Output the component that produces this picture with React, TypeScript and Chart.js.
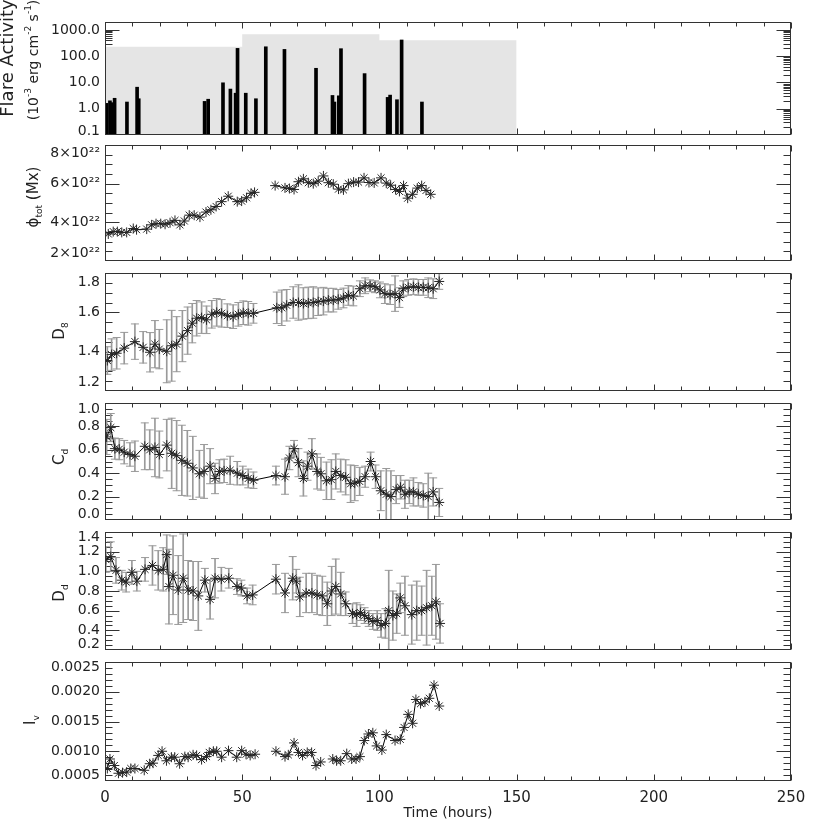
import React, { useEffect, useRef } from "react";
import { Chart, registerables } from "chart.js";

Chart.register(...registerables);

const FONT = '"DejaVu Sans", "Liberation Sans", sans-serif';
const TEXT = "#222";
const FRAME = "#333";
const ERR = "#9a9a9a";

// ---------------- x axis ----------------
const timeTicks = [0, 50, 100, 150, 200, 250];
const timeTickLabels = ["0", "50", "100", "150", "200", "250"];

// ---------------- panel 1: flare activity ----------------
const flareTime = [0.5, 1.8, 2.6, 3.5, 8.0, 11.7, 12.3, 36.3, 37.6, 43.0, 45.7, 47.6, 48.3, 51.3, 55.0, 58.6, 65.4, 76.9, 82.9, 83.6, 85.2, 86.0, 94.6, 103.0, 103.9, 106.4, 108.1, 115.5];
const flareFlux = [1.6, 2.0, 1.7, 2.5, 1.8, 6.6, 2.4, 1.9, 2.3, 9.7, 5.6, 3.9, 198, 3.9, 2.4, 228, 181, 34.6, 3.2, 1.8, 3.1, 193, 21.7, 2.7, 3.3, 2.2, 414, 1.8];
const windowTime = [0, 50, 100, 150];
const windowFlux = [230, 680, 400, 400];
const fluxTicks = [0.1, 1, 10, 100, 1000];
const fluxTickLabels = ["0.1", "1.0", "10.0", "100.0", "1000.0"];

// ---------------- panel 2: total flux (units of 1e22 Mx) ----------------
const phiTime = [1.2, 3.0, 4.5, 6.1, 7.9, 10.3, 11.5, 15.2, 17.0, 18.6, 20.3, 21.9, 23.7, 25.5, 27.3, 28.9, 30.7, 32.5, 34.6, 36.8, 38.6, 40.5, 42.5, 44.9, 48.2, 49.8, 51.6, 53.2, 54.5, 58.0, 62.0, 65.6, 67.2, 68.9, 70.5, 72.3, 74.1, 75.9, 77.7, 79.6, 81.4, 83.2, 85.1, 86.9, 88.7, 90.6, 92.4, 94.4, 96.2, 98.1, 100.6, 102.5, 104.1, 105.9, 107.3, 108.8, 110.3, 112.1, 113.8, 115.4, 117.0, 118.7];
const phiTotal = [3.40, 3.52, 3.52, 3.48, 3.48, 3.68, 3.62, 3.65, 3.87, 3.93, 3.93, 3.90, 3.98, 4.10, 3.87, 4.07, 4.37, 4.37, 4.27, 4.53, 4.65, 4.82, 5.07, 5.35, 5.07, 5.10, 5.27, 5.50, 5.55, null, 5.90, 5.78, 5.75, 5.70, 6.10, 6.25, 6.05, 6.00, 6.13, 6.40, 6.05, 5.97, 5.72, 5.68, 6.00, 6.08, 6.08, 6.30, 6.06, 6.04, 6.30, 6.03, 5.92, 5.70, 5.60, 5.90, 5.25, 5.45, 5.77, 5.90, 5.65, 5.45];
const phiTicks = [2, 4, 6, 8];
const phiTickLabels = ["2×10²²", "4×10²²", "6×10²²", "8×10²²"];

// ---------------- panel 3: D8 ----------------
const d8Time = [0.85, 2.4, 4.25, 7.0, 10.9, 13.9, 16.4, 18.2, 19.8, 22.5, 24.3, 26.1, 28.2, 30.1, 31.8, 33.4, 35.2, 37.0, 38.9, 40.7, 42.5, 44.6, 46.7, 48.6, 50.4, 52.2, 54.1, 62.6, 64.4, 66.2, 68.6, 70.5, 72.3, 74.1, 75.9, 77.7, 79.6, 81.4, 83.2, 85.0, 86.9, 88.7, 90.5, 92.9, 94.8, 96.6, 98.4, 100.2, 102.0, 103.9, 105.7, 107.3, 108.7, 110.5, 112.4, 114.2, 116.0, 117.8, 119.6, 121.8];
const d8Value = [1.355, 1.385, 1.392, 1.418, 1.451, 1.422, 1.397, 1.438, 1.413, 1.402, 1.430, 1.438, 1.479, 1.507, 1.545, 1.570, 1.573, 1.562, 1.590, 1.600, 1.595, 1.583, 1.578, 1.590, 1.598, 1.595, 1.595, 1.623, 1.623, 1.636, 1.650, 1.650, 1.645, 1.648, 1.650, 1.654, 1.657, 1.662, 1.662, 1.666, 1.673, 1.686, 1.683, 1.72, 1.735, 1.735, 1.73, 1.714, 1.695, 1.69, 1.695, 1.675, 1.72, 1.727, 1.73, 1.727, 1.727, 1.725, 1.72, 1.757];
const d8Error = [0.07, 0.08, 0.08, 0.08, 0.09, 0.08, 0.10, 0.12, 0.10, 0.16, 0.18, 0.14, 0.13, 0.12, 0.10, 0.09, 0.08, 0.07, 0.07, 0.07, 0.07, 0.06, 0.06, 0.06, 0.06, 0.06, 0.05, 0.08, 0.09, 0.08, 0.08, 0.09, 0.08, 0.08, 0.08, 0.07, 0.07, 0.06, 0.06, 0.05, 0.05, 0.05, 0.05, 0.04, 0.04, 0.03, 0.03, 0.04, 0.05, 0.05, 0.09, 0.05, 0.04, 0.04, 0.04, 0.04, 0.04, 0.05, 0.05, 0.04];
const d8Ticks = [1.2, 1.4, 1.6, 1.8];
const d8TickLabels = ["1.2", "1.4", "1.6", "1.8"];

// ---------------- panel 4: Cd ----------------
const cdTime = [0.6, 2.1, 3.6, 5.2, 7.0, 9.1, 10.9, 14.5, 16.3, 18.2, 19.8, 22.5, 24.3, 26.1, 28.0, 30.0, 32.0, 34.4, 36.1, 38.3, 40.1, 41.7, 43.4, 45.6, 48.2, 50.2, 52.2, 54.1, 62.3, 65.6, 67.2, 68.9, 70.5, 72.3, 73.8, 75.4, 77.3, 78.7, 80.7, 82.5, 84.1, 85.9, 87.7, 89.5, 91.0, 92.8, 94.8, 96.8, 98.6, 100.5, 102.5, 104.2, 106.1, 107.7, 109.3, 110.9, 112.4, 114.2, 116.0, 117.8, 119.6, 121.8];
const cdValue = [0.71, 0.79, 0.61, 0.605, 0.58, 0.56, 0.545, 0.63, 0.60, 0.62, 0.56, 0.64, 0.57, 0.55, 0.51, 0.485, 0.445, 0.395, 0.415, 0.46, 0.355, 0.415, 0.42, 0.425, 0.40, 0.38, 0.355, 0.34, 0.38, 0.37, 0.53, 0.61, 0.49, 0.355, 0.46, 0.565, 0.415, 0.395, 0.335, 0.345, 0.415, 0.38, 0.365, 0.31, 0.315, 0.33, 0.37, 0.50, 0.37, 0.25, 0.22, 0.20, 0.26, 0.28, 0.22, 0.24, 0.24, 0.22, 0.21, 0.20, 0.24, 0.15];
const cdError = [0.15, 0.12, 0.09, 0.09, 0.10, 0.10, 0.13, 0.20, 0.17, 0.25, 0.20, 0.22, 0.30, 0.30, 0.30, 0.28, 0.27, 0.20, 0.23, 0.15, 0.13, 0.10, 0.10, 0.12, 0.10, 0.08, 0.08, 0.07, 0.08, 0.15, 0.10, 0.07, 0.12, 0.15, 0.12, 0.13, 0.15, 0.14, 0.16, 0.17, 0.15, 0.14, 0.15, 0.16, 0.15, 0.12, 0.09, 0.08, 0.10, 0.17, 0.22, 0.22, 0.12, 0.10, 0.12, 0.10, 0.12, 0.10, 0.10, 0.20, 0.12, 0.12];
const cdTicks = [0, 0.2, 0.4, 0.6, 0.8, 1.0];
const cdTickLabels = ["0.0", "0.2", "0.4", "0.6", "0.8", "1.0"];

// ---------------- panel 5: Dd ----------------
const ddTime = [0.3, 2.1, 4.0, 6.1, 7.7, 9.8, 11.6, 14.6, 17.3, 19.4, 21.2, 22.5, 23.3, 24.8, 26.7, 28.5, 30.3, 32.1, 34.0, 36.4, 38.3, 40.1, 42.4, 45.1, 48.1, 49.7, 51.8, 53.8, 62.3, 65.6, 68.4, 69.7, 71.0, 73.3, 75.4, 77.3, 79.2, 81.0, 82.6, 84.1, 85.9, 87.7, 90.2, 91.7, 93.1, 94.6, 96.1, 97.6, 99.2, 100.6, 102.2, 103.4, 104.9, 106.3, 107.6, 109.3, 111.8, 113.6, 115.4, 117.2, 119.1, 120.6, 122.1];
const ddValue = [1.12, 1.15, 1.01, 0.91, 0.89, 0.99, 0.90, 1.02, 1.06, 1.01, 1.02, 1.17, 0.845, 0.96, 0.81, 0.93, 0.81, 0.80, 0.75, 0.91, 0.715, 0.93, 0.92, 0.93, 0.845, 0.83, 0.75, 0.76, 0.92, 0.78, 0.93, 0.90, 0.74, 0.78, 0.78, 0.76, 0.75, 0.67, 0.80, 0.845, 0.77, 0.67, 0.57, 0.56, 0.58, 0.55, 0.52, 0.49, 0.50, 0.45, 0.47, 0.60, 0.55, 0.57, 0.73, 0.65, 0.56, 0.60, 0.60, 0.63, 0.65, 0.69, 0.47];
const ddError = [0.13, 0.15, 0.13, 0.10, 0.10, 0.12, 0.10, 0.12, 0.20, 0.20, 0.22, 0.20, 0.38, 0.40, 0.35, 0.45, 0.30, 0.30, 0.35, 0.12, 0.20, 0.20, 0.12, 0.10, 0.08, 0.08, 0.08, 0.10, 0.15, 0.20, 0.22, 0.12, 0.20, 0.20, 0.20, 0.20, 0.20, 0.22, 0.25, 0.28, 0.22, 0.12, 0.10, 0.12, 0.08, 0.08, 0.08, 0.08, 0.10, 0.12, 0.15, 0.41, 0.25, 0.20, 0.15, 0.30, 0.30, 0.30, 0.25, 0.38, 0.30, 0.38, 0.20];
const ddTicks = [0.2, 0.4, 0.6, 0.8, 1.0, 1.2, 1.4];
const ddTickLabels = ["0.2", "0.4", "0.6", "0.8", "1.0", "1.2", "1.4"];

// ---------------- panel 6: Iv ----------------
const ivTime = [0.85, 1.8, 3.4, 4.9, 6.4, 7.9, 9.4, 10.9, 14.3, 16.3, 17.5, 19.4, 20.8, 22.4, 24.2, 25.4, 27.2, 29.1, 30.3, 32.1, 33.4, 35.2, 37.0, 38.0, 39.5, 40.7, 42.5, 45.0, 48.0, 49.8, 51.4, 52.9, 54.7, 58.0, 62.3, 65.6, 66.8, 68.9, 70.5, 72.0, 73.7, 75.3, 76.9, 78.6, 81.0, 83.0, 84.4, 85.9, 88.1, 89.9, 91.5, 92.9, 94.5, 96.0, 97.6, 99.0, 100.9, 102.5, 105.7, 107.6, 109.0, 110.5, 112.1, 113.3, 115.0, 116.6, 118.2, 119.9, 121.8];
const ivValue = [0.00071, 0.00087, 0.00076, 0.00063, 0.00064, 0.00065, 0.00071, 0.00071, 0.00068, 0.00079, 0.00080, 0.00093, 0.00100, 0.00084, 0.00090, 0.00090, 0.00079, 0.00091, 0.00090, 0.00094, 0.00093, 0.00086, 0.00091, 0.00098, 0.00100, 0.00100, 0.00090, 0.00101, 0.00090, 0.00101, 0.00095, 0.00093, 0.00095, null, 0.00100, 0.00091, 0.00094, 0.00114, 0.00098, 0.00093, 0.00098, 0.00098, 0.00076, 0.00082, null, 0.00087, 0.00084, 0.00084, 0.00096, 0.00087, 0.00087, 0.00091, 0.00118, 0.00129, 0.00131, 0.00109, 0.00102, 0.00128, 0.00118, 0.00120, 0.00140, 0.00162, 0.00147, 0.00187, 0.00180, 0.00183, 0.00189, 0.00211, 0.00176];
const ivTicks = [0.0005, 0.001, 0.0015, 0.002, 0.0025];
const ivTickLabels = ["0.0005", "0.0010", "0.0015", "0.0020", "0.0025"];

// ---------------- helpers ----------------
function steps(min: number, max: number, step: number, skip: number[] = []) {
  const out: number[] = [];
  const n = Math.round((max - min) / step);
  for (let i = 0; i <= n; i++) {
    const v = +(min + i * step).toFixed(8);
    if (!skip.some((s) => Math.abs(s - v) < step / 100)) out.push(v);
  }
  return out;
}
function logMinor(maxV: number) {
  const out: number[] = [];
  [0.1, 1, 10, 100, 1000].forEach((d) => {
    for (let k = 2; k <= 9; k++) if (d * k <= maxV) out.push(d * k);
  });
  return out;
}
const xMinor = steps(0, 250, 10, timeTicks);

function pts(t: number[], v: (number | null)[]) {
  return t.map((x, i) => ({ x, y: v[i] }));
}
function seriesDataset(t: number[], v: (number | null)[]) {
  return {
    type: "line",
    data: pts(t, v),
    borderColor: "#000",
    borderWidth: 1,
    pointStyle: "star",
    pointRadius: 5,
    pointBorderColor: "#262626",
    pointBackgroundColor: "#262626",
    pointBorderWidth: 1,
    spanGaps: false,
    tension: 0,
    order: 1,
  };
}
function errorDatasets(t: number[], v: number[], e: number[]) {
  return [
    {
      type: "bar",
      data: t.map((x, i) => ({ x, y: [v[i] - e[i], v[i] + e[i]] })),
      backgroundColor: ERR,
      borderWidth: 0,
      barThickness: 1,
      grouped: false,
      order: 6,
    },
    {
      type: "line",
      showLine: false,
      data: [
        ...t.map((x, i) => ({ x, y: v[i] + e[i] })),
        ...t.map((x, i) => ({ x, y: v[i] - e[i] })),
      ],
      pointStyle: "line",
      pointRadius: 4,
      pointBorderColor: ERR,
      pointBorderWidth: 1,
      order: 5,
    },
  ];
}

type Part = { text: string; sub?: boolean; sup?: boolean };
type TitleSpec = { x: number; y: number; size: number; parts: Part[] };

type PanelSpec = {
  cTop: number;
  cBottom: number;
  aTop: number;
  aBottom: number;
  yType: "linear" | "logarithmic";
  yMin: number;
  yMax: number;
  yTicks: number[];
  yTickLabels: string[];
  yMinor: number[];
  shiftLH: number;
  datasets: any[];
  titles: TitleSpec[];
  showX: boolean;
};

function edges(a: any) {
  return {
    L: Math.round(a.left) + 0.5,
    R: Math.round(a.right) - 0.5,
    T: Math.round(a.top) + 0.5,
    B: Math.round(a.bottom) - 0.5,
  };
}

function makeFramePlugin(spec: PanelSpec) {
  return {
    id: "idlFrame",
    // inward tick marks are drawn beneath the data (IDL draws fills over them)
    beforeDatasetsDraw(chart: any) {
      const { ctx, chartArea: a, scales } = chart;
      const xs = scales.x;
      const ys = scales.y;
      const { L, R, T, B } = edges(a);
      ctx.save();
      ctx.strokeStyle = FRAME;
      ctx.lineWidth = 1;
      ctx.beginPath();
      const yTick = (vals: number[], len: number) =>
        vals.forEach((v) => {
          const p = Math.round(ys.getPixelForValue(v)) + 0.5;
          if (p < T - 0.1 || p > B + 0.1) return;
          ctx.moveTo(L, p);
          ctx.lineTo(L + len, p);
          ctx.moveTo(R, p);
          ctx.lineTo(R - len, p);
        });
      yTick(spec.yTicks, 14);
      yTick(spec.yMinor, 7);
      const xTick = (vals: number[], len: number) =>
        vals.forEach((v) => {
          const p = Math.round(xs.getPixelForValue(v)) + 0.5;
          ctx.moveTo(p, T);
          ctx.lineTo(p, T + len);
          ctx.moveTo(p, B);
          ctx.lineTo(p, B - len);
        });
      xTick(timeTicks, 6);
      xTick(xMinor, 4);
      ctx.stroke();
      ctx.restore();
    },
    afterDatasetsDraw(chart: any) {
      const { ctx, chartArea: a } = chart;
      const { L, R, T, B } = edges(a);
      ctx.save();
      ctx.strokeStyle = FRAME;
      ctx.lineWidth = 1;
      ctx.strokeRect(L, T, R - L, B - T);
      ctx.restore();
    },
  };
}

function makeTitlePlugin(spec: PanelSpec) {
  return {
    id: "vTitles",
    afterDraw(chart: any) {
      const ctx = chart.ctx;
      spec.titles.forEach((t) => {
        ctx.save();
        ctx.translate(t.x, t.y - spec.cTop);
        ctx.rotate(-Math.PI / 2);
        ctx.fillStyle = TEXT;
        ctx.textBaseline = "middle";
        ctx.textAlign = "left";
        const fontFor = (p: Part) =>
          `${p.sub || p.sup ? Math.round(t.size * 0.62) : t.size}px ${FONT}`;
        let total = 0;
        t.parts.forEach((p) => {
          ctx.font = fontFor(p);
          total += ctx.measureText(p.text).width;
        });
        let cx = -total / 2;
        t.parts.forEach((p) => {
          ctx.font = fontFor(p);
          const dy = p.sub ? t.size * 0.35 : p.sup ? -t.size * 0.4 : 0;
          ctx.fillText(p.text, cx, dy);
          cx += ctx.measureText(p.text).width;
        });
        ctx.restore();
      });
    },
  };
}

function buildConfig(spec: PanelSpec): any {
  return {
    type: "scatter",
    data: { datasets: spec.datasets },
    options: {
      animation: false,
      responsive: false,
      events: [],
      layout: {
        padding: {
          left: 5,
          right: 26,
          top: spec.aTop - spec.cTop,
          bottom: spec.showX ? 0 : spec.cBottom - spec.aBottom,
        },
      },
      plugins: { legend: { display: false }, tooltip: { enabled: false } },
      scales: {
        x: {
          type: "linear",
          min: 0,
          max: 250,
          offset: false,
          display: spec.showX,
          afterBuildTicks: (s: any) => {
            s.ticks = timeTicks.map((v) => ({ value: v }));
          },
          afterFit: (s: any) => {
            if (spec.showX) s.height = spec.cBottom - spec.aBottom;
            s.paddingLeft = 0;
            s.paddingRight = 0;
          },
          grid: { display: false, drawTicks: false, offset: false },
          border: { display: false },
          ticks: {
            color: TEXT,
            font: { family: FONT, size: 15 },
            padding: 8,
            maxRotation: 0,
            autoSkip: false,
            callback: (_v: any, i: number) => timeTickLabels[i],
          },
          title: {
            display: true,
            text: "Time (hours)",
            color: TEXT,
            font: { family: FONT, size: 14 },
            padding: { top: 0, bottom: 3 },
          },
        },
        y: {
          type: spec.yType,
          min: spec.yMin,
          max: spec.yMax,
          offset: false,
          afterBuildTicks: (s: any) => {
            s.ticks = spec.yTicks.map((v) => ({ value: v }));
          },
          afterFit: (s: any) => {
            s.width = 100;
            s.paddingTop = 0;
            s.paddingBottom = 0;
          },
          grid: { display: false, drawTicks: false },
          border: { display: false },
          ticks: {
            color: TEXT,
            font: { family: FONT, size: 14, lineHeight: spec.shiftLH / 14 },
            padding: 5,
            autoSkip: false,
            callback: (v: number, i: number) => {
              const lab = spec.yTickLabels[i];
              if (i === 0 && v === spec.yMin) return [lab, ""];
              if (i === spec.yTicks.length - 1 && v === spec.yMax) return ["", lab];
              return lab;
            },
          },
        },
      },
    },
    plugins: [makeFramePlugin(spec), makeTitlePlugin(spec)],
  };
}

const panels: PanelSpec[] = [
  {
    cTop: 0, cBottom: 139, aTop: 22, aBottom: 135,
    yType: "logarithmic", yMin: 0.1, yMax: 2000,
    yTicks: fluxTicks, yTickLabels: fluxTickLabels, yMinor: logMinor(2000), shiftLH: 8,
    datasets: [
      {
        type: "line",
        data: pts(windowTime, windowFlux),
        stepped: true,
        fill: "start",
        backgroundColor: "#e5e5e5",
        borderColor: "rgba(0,0,0,0)",
        borderWidth: 0,
        pointRadius: 0,
        order: 10,
      },
      {
        type: "bar",
        data: flareTime.map((x, i) => ({ x, y: [0.1, flareFlux[i]] })),
        backgroundColor: "#000",
        borderWidth: 0,
        barThickness: 3,
        grouped: false,
        order: 1,
      },
    ],
    titles: [
      { x: 8, y: 58, size: 18, parts: [{ text: "Flare Activity" }] },
      {
        x: 34, y: 60, size: 14,
        parts: [
          { text: "(10" }, { text: "-3", sup: true }, { text: " erg cm" },
          { text: "-2", sup: true }, { text: " s" }, { text: "-1", sup: true }, { text: ")" },
        ],
      },
    ],
    showX: false,
  },
  {
    cTop: 139, cBottom: 267, aTop: 144, aBottom: 263,
    yType: "linear", yMin: 2, yMax: 8,
    yTicks: phiTicks, yTickLabels: phiTickLabels, yMinor: steps(2, 8, 0.5, phiTicks), shiftLH: 16,
    datasets: [seriesDataset(phiTime, phiTotal)],
    titles: [{ x: 34, y: 197, size: 15, parts: [{ text: "ϕ" }, { text: "tot", sub: true }, { text: " (Mx)" }] }],
    showX: false,
  },
  {
    cTop: 267, cBottom: 397, aTop: 272, aBottom: 393,
    yType: "linear", yMin: 1.2, yMax: 1.8,
    yTicks: d8Ticks, yTickLabels: d8TickLabels, yMinor: steps(1.2, 1.8, 0.05, d8Ticks), shiftLH: 18,
    datasets: [seriesDataset(d8Time, d8Value), ...errorDatasets(d8Time, d8Value, d8Error)],
    titles: [{ x: 60, y: 331, size: 15, parts: [{ text: "D" }, { text: "8", sub: true }] }],
    showX: false,
  },
  {
    cTop: 397, cBottom: 526, aTop: 401, aBottom: 523,
    yType: "linear", yMin: 0, yMax: 1.0,
    yTicks: cdTicks, yTickLabels: cdTickLabels, yMinor: steps(0, 1, 0.05, cdTicks), shiftLH: 12,
    datasets: [seriesDataset(cdTime, cdValue), ...errorDatasets(cdTime, cdValue, cdError)],
    titles: [{ x: 60, y: 457, size: 15, parts: [{ text: "C" }, { text: "d", sub: true }] }],
    showX: false,
  },
  {
    cTop: 526, cBottom: 656, aTop: 530, aBottom: 653,
    yType: "linear", yMin: 0.2, yMax: 1.4,
    yTicks: ddTicks, yTickLabels: ddTickLabels, yMinor: steps(0.2, 1.4, 0.05, ddTicks), shiftLH: 11,
    datasets: [seriesDataset(ddTime, ddValue), ...errorDatasets(ddTime, ddValue, ddError)],
    titles: [{ x: 60, y: 593, size: 15, parts: [{ text: "D" }, { text: "d", sub: true }] }],
    showX: false,
  },
  {
    cTop: 656, cBottom: 825, aTop: 659, aBottom: 781,
    yType: "linear", yMin: 0.0005, yMax: 0.0025,
    yTicks: ivTicks, yTickLabels: ivTickLabels, yMinor: steps(0.0005, 0.0025, 0.0001, ivTicks), shiftLH: 11,
    datasets: [seriesDataset(ivTime, ivValue)],
    titles: [{ x: 31, y: 720, size: 15, parts: [{ text: "I" }, { text: "v", sub: true }] }],
    showX: true,
  },
];

function Panel({ spec }: { spec: PanelSpec }) {
  const ref = useRef<HTMLCanvasElement>(null);
  useEffect(() => {
    if (!ref.current) return;
    const chart = new Chart(ref.current, buildConfig(spec));
    return () => chart.destroy();
  }, [spec]);
  const h = spec.cBottom - spec.cTop;
  return (
    <canvas
      ref={ref}
      width={817}
      height={h}
      style={{ position: "absolute", left: 0, top: spec.cTop, width: 817, height: h, display: "block" }}
    />
  );
}

export default function App() {
  return (
    <div
      style={{
        position: "absolute",
        left: 0,
        top: 0,
        width: 817,
        height: 825,
        overflow: "hidden",
        background: "#fff",
      }}
    >
      {panels.map((p, i) => (
        <Panel key={i} spec={p} />
      ))}
    </div>
  );
}
